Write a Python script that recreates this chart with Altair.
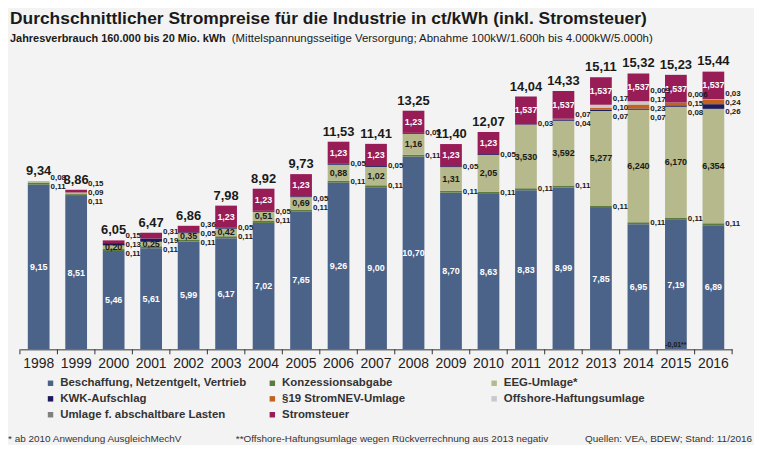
import altair as alt
import pandas as pd

years = [1998, 1999, 2000, 2001, 2002, 2003, 2004, 2005, 2006, 2007,
         2008, 2009, 2010, 2011, 2012, 2013, 2014, 2015, 2016]
beschaffung = [9.15, 8.51, 5.46, 5.61, 5.99, 6.17, 7.02, 7.65, 9.26, 9.00,
               10.70, 8.70, 8.63, 8.83, 8.99, 7.85, 6.95, 7.19, 6.89]
konzession = [0.11, 0.11, 0.11, 0.11, 0.11, 0.11, 0.11, 0.11, 0.11, 0.11,
              0.11, 0.11, 0.11, 0.11, 0.11, 0.11, 0.11, 0.11, 0.11]
eeg = [0.08, 0.09, 0.20, 0.25, 0.35, 0.42, 0.51, 0.69, 0.88, 1.02,
       1.16, 1.31, 2.05, 3.530, 3.592, 5.277, 6.240, 6.170, 6.354]
kwk = [0, 0, 0.13, 0.19, 0.05, 0.05, 0.05, 0.05, 0.05, 0.05,
       0.05, 0.05, 0.05, 0.03, 0.04, 0.07, 0.07, 0.08, 0.26]
stromnev = [0, 0, 0, 0, 0, 0, 0, 0, 0, 0,
            0, 0, 0, 0, 0.07, 0.10, 0.23, 0.15, 0.24]
offshore = [0, 0, 0, 0, 0, 0, 0, 0, 0, 0,
            0, 0, 0, 0, 0, 0.17, 0.17, -0.01, 0.03]
abschaltbar = [0, 0, 0, 0, 0, 0, 0, 0, 0, 0,
               0, 0, 0, 0, 0, 0, 0.009, 0.006, 0]
stromsteuer = [0, 0.15, 0.15, 0.31, 0.36, 1.23, 1.23, 1.23, 1.23, 1.23,
               1.23, 1.23, 1.23, 1.537, 1.537, 1.537, 1.537, 1.537, 1.537]
totals = [9.34, 8.86, 6.05, 6.47, 6.86, 7.98, 8.92, 9.73, 11.53, 11.41,
          13.25, 11.40, 12.07, 14.04, 14.33, 15.11, 15.32, 15.23, 15.44]

series = ["Beschaffung, Netzentgelt, Vertrieb", "Konzessionsabgabe", "EEG-Umlage*",
          "KWK-Aufschlag", "§19 StromNEV-Umlage", "Offshore-Haftungsumlage",
          "Umlage f. abschaltbare Lasten", "Stromsteuer"]
colors = ["#4b6289", "#5d7b3c", "#b6b98b", "#1e1b5c", "#c2621f", "#c9c9c9",
          "#808080", "#981c56"]
values = [beschaffung, konzession, eeg, kwk, stromnev, offshore, abschaltbar, stromsteuer]
# legend fills column by column: order so that rows read like the reference
legend_order = [0, 3, 6, 1, 4, 7, 2, 5]

title = "Durchschnittlicher Strompreise für die Industrie in ct/kWh (inkl. Stromsteuer)"
sub_bold = "Jahresverbrauch 160.000 bis 20 Mio. kWh"
sub_norm = "(Mittelspannungsseitige Versorgung; Abnahme 100kW/1.600h bis 4.000kW/5.000h)"
foot1 = "* ab 2010 Anwendung AusgleichMechV"
foot2 = "**Offshore-Haftungsumlage wegen Rückverrechnung aus 2013 negativ"
foot3 = "Quellen: VEA, BDEW; Stand: 11/2016"


def fmt(v, si, yr):
    three = (si in (2, 7) and yr >= 2011) or si == 6
    s = f"{v:.3f}" if three else f"{v:.2f}"
    return s.replace(".", ",")


rows = []
for yi, yr in enumerate(years):
    cum = 0.0
    for si, s in enumerate(series):
        v = values[si][yi]
        if v == 0:
            continue
        if v > 0:
            y0, y1 = cum, cum + v
            cum = y1
        else:
            y0, y1 = v, 0.0
        if v < 0:
            kind = "neg"
        elif si == 0 or (si == 7 and v >= 1):
            kind = "white"
        elif si == 2 and v >= 0.2:
            kind = "dark"
        else:
            kind = "right"
        rows.append(dict(year=str(yr), series=s, order=si, value=v, y0=y0, y1=y1,
                         mid=(y0 + y1) / 2, label=fmt(v, si, yr), kind=kind))
df = pd.DataFrame(rows)

# spread the small labels beside the bars
SP = 0.5
right_rows = []
for yr in years:
    g = df[(df.kind == "right") & (df.year == str(yr))].sort_values("order")
    clusters = []
    for _, r in g.iterrows():
        if clusters and r.mid - clusters[-1][-1].mid < 0.8:
            clusters[-1].append(r)
        else:
            clusters.append([r])
    for c in clusters:
        m = sum(r.mid for r in c) / len(c)
        n = len(c)
        for k, r in enumerate(c):
            right_rows.append(dict(year=str(yr), label=r.label, ly=m + (k - (n - 1) / 2) * SP))
right_df = pd.DataFrame(right_rows)

tot_df = pd.DataFrame({"year": [str(y) for y in years], "total": totals,
                       "label": [f"{t:.2f}".replace(".", ",") for t in totals]})

W, H = 716, 300
YMAX = 16.57
FN = "Liberation Sans, Arial"

xs = alt.Scale(paddingInner=0, paddingOuter=0)
ys = alt.Scale(domain=[0, YMAX], nice=False)

bars = alt.Chart(df).mark_bar(width=alt.RelativeBandSize(0.58)).encode(
    x=alt.X("year:N", scale=xs, sort=[str(y) for y in years],
            axis=alt.Axis(title=None, labelAngle=0, ticks=False, labelFontSize=14,
                          labelFont="Liberation Sans", labelColor="#222", labelPadding=7,
                          domainColor="#333", domainWidth=1, grid=False)),
    y=alt.Y("y1:Q", scale=ys, axis=None),
    y2="y0:Q",
    color=alt.Color("series:N",
                    scale=alt.Scale(domain=[series[i] for i in legend_order],
                                    range=[colors[i] for i in legend_order]),
                    legend=alt.Legend(title=None, orient="none", legendX=25, legendY=328,
                                      columns=3, gridAlign="all", columnPadding=20,
                                      rowPadding=3, symbolType="square", symbolSize=30,
                                      labelFont=FN, labelFontSize=11.5, labelFontWeight="bold",
                                      labelColor="#333", labelLimit=300, symbolStrokeWidth=0)),
)

ticks = alt.Chart(tot_df).mark_rule(color="#333").encode(
    x=alt.X("year:N", bandPosition=0),
    y=alt.value(H), y2=alt.value(H + 5))
endtick = alt.Chart(tot_df.head(1)).mark_rule(color="#333").encode(
    x=alt.value(W), y=alt.value(H), y2=alt.value(H + 5))

white = alt.Chart(df[df.kind == "white"]).mark_text(
    color="white", fontSize=9, fontWeight="bold", font="Liberation Sans", baseline="middle").encode(
    x=alt.X("year:N"), y=alt.Y("mid:Q"), text="label:N")
dark = alt.Chart(df[df.kind == "dark"]).mark_text(
    color="#1a1a1a", fontSize=9, fontWeight="bold", font="Liberation Sans", baseline="middle").encode(
    x=alt.X("year:N"), y=alt.Y("mid:Q"), text="label:N")
side = alt.Chart(right_df).mark_text(
    color="#1a1a1a", fontSize=8, fontWeight="bold", font="Liberation Sans", baseline="middle",
    align="left", dx=1).encode(
    x=alt.X("year:N", bandPosition=0.79), y=alt.Y("ly:Q"), text="label:N")
neg = alt.Chart(df[df.kind == "neg"]).mark_text(
    color="#1a1a1a", fontSize=7, fontWeight="bold", font="Liberation Sans", baseline="bottom",
    dy=-1).encode(
    x=alt.X("year:N"), y=alt.Y("y1:Q"), text=alt.Text("label2:N"))
neg = neg.transform_calculate(label2="datum.label + '**'")
tots = alt.Chart(tot_df).mark_text(
    color="#1a1a1a", fontSize=13, fontWeight="bold", font="Liberation Sans", baseline="bottom",
    dy=-3).encode(
    x=alt.X("year:N"), y=alt.Y("total:Q"), text="label:N")


def txt(s, x, y, size, weight="normal", align="left", font=FN, color="#1a1a1a"):
    return alt.Chart(pd.DataFrame({"t": [s]})).mark_text(
        align=align, baseline="middle", font=font, fontSize=size, fontWeight=weight,
        color=color).encode(x=alt.value(x), y=alt.value(y), text="t:N")


annos = [
    txt(title, -10, -32, 17.5, "bold"),
    txt(sub_bold, -10, -12, 11, "bold"),
    txt(sub_norm, 213, -12, 11.5, "normal"),
    txt(foot1, -12, 390, 10, "normal", color="#333"),
    txt(foot2, 217, 390, 10, "normal", color="#333"),
    txt(foot3, 736, 390, 10, "normal", align="right", color="#333"),
]

chart = alt.layer(bars, ticks, endtick, white, dark, side, neg, tots, *annos).properties(
    width=W, height=H,
    autosize=alt.AutoSizeParams(type="none"),
    padding={"left": 12, "top": 42, "right": 22, "bottom": 95},
    background="#f3f3f3",
).configure_view(stroke=None)

chart.save("out.html", embed_options={"renderer": "svg", "actions": False})
